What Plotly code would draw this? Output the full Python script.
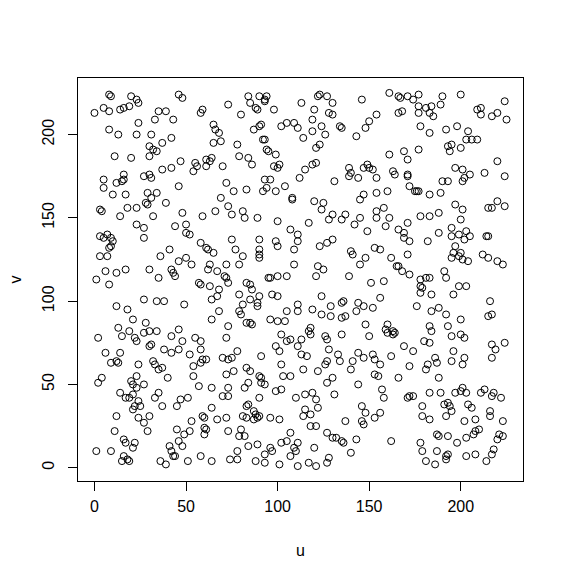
import plotly.graph_objects as go

# ---- data, grouped by region of the plot ----
uA = [8,9,20,23,24,46,48,0,5,8,14,16,19,35,39,59,58,73,24,33,43,65,66,68,69,65,8,13,23,31,37,42,30,32,34,30,11,20,47,42,37,55,56,54,61,64,63,61,70,16,16,15,5,27,30,31]
vA = [224,223,223,221,219,224,222,213,216,214,215,216,217,214,214,215,213,218,207,209,209,206,203,201,196,195,203,200,200,200,195,198,193,191,190,187,187,186,184,180,179,183,181,178,185,186,184,181,181,176,173,172,173,175,176,174]

uB = [84,85,88,89,90,93,94,93,98,80,113,122,123,127,130,146,154,120,128,130,119,91,90,87,102,105,109,111,124,119,126,114,134,135,150,148,143,92,93,78,94,95,99,121,123,79,84,86,98,101,100,115,119,121,139,140,144,139,149,150,152,147,93,96,112,131,154]
vB = [223,219,216,215,223,221,223,220,215,212,219,223,224,223,219,221,212,215,213,212,209,206,205,203,205,207,207,204,205,202,200,198,205,204,208,204,199,197,197,194,191,190,188,192,194,187,186,182,181,182,180,179,182,183,180,177,174,175,182,180,179,180,173,173,174,172,174]

uC = [161,166,167,171,174,177,177,177,181,184,183,185,190,189,200,224,166,168,209,211,211,217,220,225,178,183,192,198,204,203,206,209,193,195,194,200,161,169,171,177,220,197,201,205,213,224,163,164,171,171,190,193,201,202]
vC = [225,223,222,223,221,224,217,213,216,217,213,211,223,218,224,220,213,214,215,216,212,211,213,209,205,201,203,205,202,197,197,197,193,194,190,192,188,190,185,191,184,180,179,176,177,175,178,176,176,175,172,172,172,174]

uD = [5,10,12,17,46,72,29,34,31,28,29,39,69,73,3,4,18,23,14,32,48,59,66,23,27,44,50,50,52,3,5,7,9,10,9,8,27,58,61,62,65,41,3,7,36,50,46,53,63,62,67,72,71,72,6,12,17,30,42,43,44,1,35,57,58]
vD = [168,164,171,164,169,171,165,165,162,159,158,159,162,157,155,154,156,156,151,151,153,151,154,146,144,145,146,141,140,139,138,140,138,136,133,132,138,135,132,131,129,131,127,127,127,126,124,122,122,119,118,122,115,114,118,117,119,119,119,117,115,113,114,111,110]

uE = [76,83,92,94,99,104,108,108,120,125,124,147,145,154,75,81,82,89,100,117,130,128,137,135,145,142,154,158,154,107,111,111,109,149,75,90,99,100,123,127,130,153,77,81,90,90,90,140,141,148,145,79,109,122,125,121,139,100,105,95,96,151]
vE = [166,167,166,168,166,169,162,161,160,159,155,164,161,165,152,154,150,150,148,147,152,149,152,149,150,146,154,156,150,143,140,136,131,142,137,137,136,133,133,135,137,132,131,127,131,128,126,130,128,126,122,122,122,121,119,115,115,115,115,114,114,111]

uF = [160,172,175,176,177,183,189,197,201,215,217,220,224,161,159,171,178,183,188,200,166,169,169,172,182,188,195,195,199,203,202,205,214,215,197,196,195,200,199,201,204,156,162,171,212,215,220,223,166,165,168,172,178,181,183,191,192,158,199,203]
vF = [166,169,166,166,166,164,165,158,155,156,156,160,157,150,145,147,151,151,153,149,143,141,138,136,136,141,144,139,140,142,137,139,139,139,133,129,126,129,127,125,124,131,126,128,128,126,124,122,121,121,118,116,113,114,114,118,114,112,109,109]

uG = [8,63,68,73,67,64,27,34,38,12,18,49,68,21,28,64,13,19,15,27,30,34,46,73,2,22,23,42,48,55,58,72,31,30,38,42,46,52,58,6,14,12,9,13,24,32,33,37,35,54,58,59,61,70,73,2,4,20,21,23,27,40,54,72]
vG = [110,109,107,111,103,101,101,100,100,97,95,98,94,89,87,89,84,82,79,81,82,82,83,85,78,78,76,79,76,78,76,78,74,73,71,69,71,68,71,69,69,64,63,63,62,64,62,60,59,61,63,65,65,66,65,51,54,52,50,55,50,54,55,56]

uH = [83,85,86,79,85,81,89,90,89,97,100,79,80,105,111,111,119,124,124,129,129,135,136,135,137,144,143,147,152,83,85,86,96,100,104,148,118,117,118,102,126,127,135,150,105,107,113,111,99,101,128,78,75,91,113,116,133,134,144,147,152,153,141,140,127,126,102,114,122,76,83,85,103,107,90,91,91,93,130,127,153,84,144]
vH = [111,110,107,104,101,98,99,103,97,104,103,94,92,94,98,94,95,103,92,97,91,99,100,90,91,99,94,97,96,87,87,86,89,88,88,86,84,82,80,80,79,77,80,79,76,77,77,73,73,70,71,70,66,67,68,67,68,64,69,66,68,65,64,59,64,62,62,59,58,58,60,58,55,55,55,54,51,50,54,51,56,51,50]

uI = [178,179,178,184,196,156,176,184,188,192,200,216,215,217,160,159,160,163,164,163,183,184,193,195,200,202,180,183,169,174,217,219,224,196,162,156,186,187,182,181,195,202,201,217,172,155,166,188]
vI = [109,108,105,104,104,102,97,94,96,92,89,100,91,92,86,83,81,82,81,80,85,82,85,79,80,78,76,75,73,70,74,71,75,70,67,62,66,63,62,59,64,66,62,66,61,55,54,54]

uJ = [23,14,17,19,21,24,25,22,21,33,35,37,47,51,45,57,64,70,73,73,64,12,24,30,27,53,59,60,67,72,11,29,45,52,49,60,61,60,73,16,17,22,46,48,41,42,43,44,21,1,9,16,15,18,19,36,39,51,58,64,74]
vJ = [48,45,42,42,44,40,37,37,35,42,45,37,41,42,37,49,48,43,48,43,36,31,30,31,27,28,31,30,29,30,22,22,23,22,20,24,23,20,22,17,15,15,16,13,13,10,7,7,12,10,10,7,4,5,4,4,2,4,7,4,5]

uK = [82,99,102,90,110,115,119,121,131,83,84,81,83,87,88,90,87,89,96,101,114,115,118,122,118,121,137,146,148,153,146,147,80,79,82,107,127,130,132,135,136,143,84,89,102,105,111,96,97,109,110,107,120,78,78,93,93,88,101,111,117,121,128,127,140]
vK = [48,46,47,42,42,44,45,41,44,37,38,31,30,34,32,31,29,30,30,29,31,35,32,36,25,25,28,37,33,30,28,26,23,19,19,21,21,18,18,16,15,17,13,14,15,16,15,12,10,12,10,7,12,10,5,8,3,4,2,1,3,1,6,3,9]

uL = [157,158,156,171,172,174,183,189,197,200,201,203,211,213,217,218,222,179,179,183,191,193,194,195,192,204,206,216,216,223,202,208,187,188,193,198,203,207,208,210,220,221,223,162,178,179,187,192,193,192,203,208,218,217,214,181,186]
vL = [47,42,33,42,43,43,45,45,45,46,48,45,45,47,43,45,42,37,31,29,38,39,37,34,31,38,36,34,31,28,28,29,20,19,19,15,18,20,22,23,17,20,19,16,15,10,10,7,8,5,7,8,11,8,4,4,2]

x_ticks = [0, 50, 100, 150, 200]
y_ticks = [0, 50, 100, 150, 200]
x_label = "u"
y_label = "v"

u = uA + uB + uC + uD + uE + uF + uG + uH + uI + uJ + uK + uL
v = vA + vB + vC + vD + vE + vF + vG + vH + vI + vJ + vK + vL
assert len(u) == len(v)

# R-style 4% padding around the data range
def padded(vals):
    lo, hi = min(vals), max(vals)
    d = (hi - lo) * 0.04
    return [lo - d, hi + d]

fig = go.Figure(go.Scatter(
    x=u, y=v, mode="markers",
    marker=dict(symbol="circle-open", size=7, color="black", line=dict(width=1, color="black")),
    hoverinfo="skip",
))

font = dict(family="Arial, 'Liberation Sans', sans-serif", size=16, color="black")

fig.update_layout(
    width=564, height=579,
    margin=dict(l=78, r=41, t=78, b=98),
    paper_bgcolor="white", plot_bgcolor="white",
    showlegend=False, font=font,
    annotations=[
        dict(text=x_label, x=0.5, y=0, xref="paper", yref="paper",
             xanchor="center", yanchor="middle", yshift=-69, showarrow=False, font=font),
        dict(text=y_label, x=0, y=0.5, xref="paper", yref="paper",
             xanchor="center", yanchor="middle", xshift=-63, textangle=-90, showarrow=False, font=font),
    ],
)
fig.update_xaxes(range=padded(u), tickvals=x_ticks, ticks="outside", ticklen=9, tickwidth=1,
                 tickcolor="black", showgrid=False, zeroline=False, showline=True,
                 linecolor="black", linewidth=1, mirror=True, ticklabelstandoff=2)
fig.update_yaxes(range=padded(v), tickvals=y_ticks, ticks="outside", ticklen=9, tickwidth=1,
                 tickcolor="black", showgrid=False, zeroline=False, showline=True,
                 linecolor="black", linewidth=1, mirror=True, tickangle=-90, ticklabelstandoff=8)

# remove the default page margin so the figure fills the window exactly
fig.write_html("out.html",
               config={"displayModeBar": False},
               post_script="document.body.style.margin='0';document.body.style.overflow='hidden';")
